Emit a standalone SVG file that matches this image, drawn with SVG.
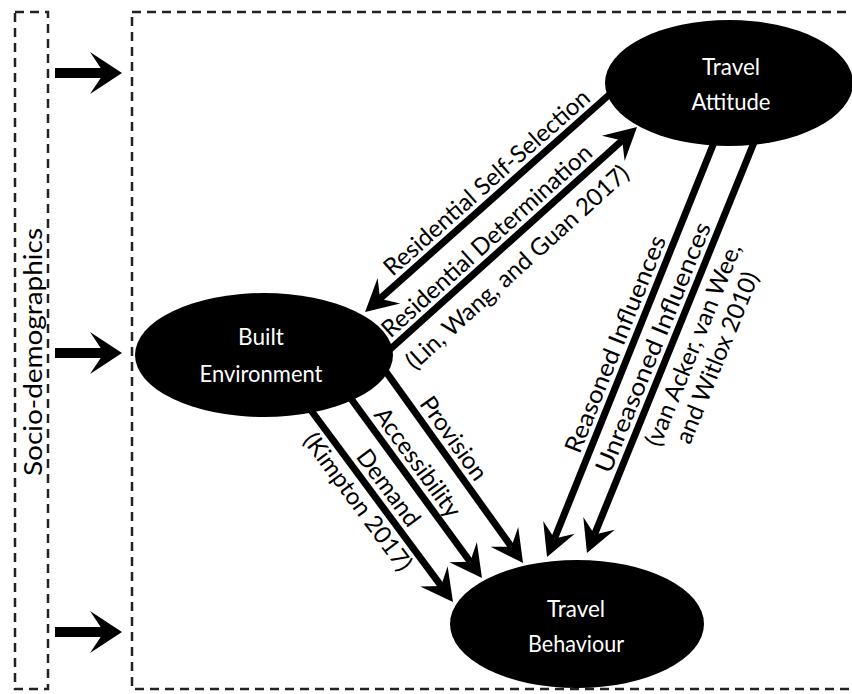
<svg xmlns="http://www.w3.org/2000/svg" width="852" height="694" viewBox="0 0 852 694">
<style>
.frame{fill:none;stroke:#222;stroke-width:2.5;stroke-dasharray:9 6}
.node{fill:#000}
.nl{fill:#fff;font-family:Lato,"Liberation Sans",sans-serif;font-size:24px;text-anchor:middle}
.el{fill:#000;font-family:Lato,"Liberation Sans",sans-serif;font-size:24px;text-anchor:middle}
.conn{fill:none;stroke:#000;stroke-width:7;marker-end:url(#ah)}
.side{fill:none;stroke:#000;stroke-width:10;marker-end:url(#ahb)}
</style>
<defs>
<marker id="ah" markerUnits="userSpaceOnUse" orient="auto" overflow="visible" refX="0" refY="0" markerWidth="1" markerHeight="1"><path d="M20,0 L-12,-17 L0,0 L-12,17 Z" fill="#000"/></marker>
<marker id="ahb" markerUnits="userSpaceOnUse" orient="auto" overflow="visible" refX="0" refY="0" markerWidth="1" markerHeight="1"><path d="M18,0 L-14,-21 L0,0 L-14,21 Z" fill="#000"/></marker>
</defs>
<rect width="852" height="694" fill="#fff"/>
<g id="socio-demographics">
<rect class="frame" x="15" y="12" width="33" height="677"/>
<text transform="translate(42,352) rotate(-90)" font-family="Lato, 'Liberation Sans', sans-serif" font-size="25" text-anchor="middle" textLength="248" lengthAdjust="spacingAndGlyphs" fill="#000">Socio-demographics</text>
</g>
<g id="main-frame">
<rect class="frame" x="132" y="12" width="740" height="677"/>
</g>
<g id="connectors">
<path class="side" d="M55,73 L104,73"/>
<path class="side" d="M55,353 L104,353"/>
<path class="side" d="M55,632 L104,632"/>
<path class="conn" d="M610,94 L380,298.7"/>
<path class="conn" d="M386,353 L622.2,140.4"/>
<path class="conn" d="M310,409 L441.1,585.9"/>
<path class="conn" d="M349,396 L470.2,561.8"/>
<path class="conn" d="M384,369 L511.4,546.7"/>
<path class="conn" d="M715,140 L554.5,538.5"/>
<path class="conn" d="M755,140 L594.5,534.5"/>
<text class="el" transform="translate(492.1,188.5) rotate(-41.6)">Residential Self-Selection</text>
<text class="el" transform="translate(492.2,247) rotate(-42.1)">Residential Determination</text>
<text class="el" transform="translate(522.7,273.2) rotate(-42.1)">(Lin, Wang, and Guan 2017)</text>
<text class="el" transform="translate(447,443.1) rotate(54.4)">Provision</text>
<text class="el" transform="translate(411,467.2) rotate(53.9)">Accessibility</text>
<text class="el" transform="translate(381.9,492.6) rotate(53.5)">Demand</text>
<text class="el" transform="translate(351.2,506.7) rotate(53.5)">(Kimpton 2017)</text>
<text class="el" transform="translate(623,347.2) rotate(-68)" textLength="232" lengthAdjust="spacingAndGlyphs">Reasoned Influences</text>
<text class="el" transform="translate(660.8,350.5) rotate(-67.8)" textLength="268" lengthAdjust="spacingAndGlyphs">Unreasoned Influences</text>
<text class="el" transform="translate(700.7,347.8) rotate(-67.8)">(van Acker, van Wee,</text>
<text class="el" transform="translate(724.6,360.7) rotate(-67.8)">and Witlox 2010)</text>
</g>
<g id="travel-attitude">
<ellipse class="node" cx="729" cy="83" rx="124" ry="63"/>
<text class="nl" x="731" y="75" textLength="58" lengthAdjust="spacingAndGlyphs">Travel</text>
<text class="nl" x="731" y="110" textLength="79" lengthAdjust="spacingAndGlyphs">Attitude</text>
</g>
<g id="built-environment">
<ellipse class="node" cx="264" cy="355" rx="129" ry="62"/>
<text class="nl" x="261" y="345" textLength="46" lengthAdjust="spacingAndGlyphs">Built</text>
<text class="nl" x="261" y="382" textLength="123" lengthAdjust="spacingAndGlyphs">Environment</text>
</g>
<g id="travel-behaviour">
<ellipse class="node" cx="577" cy="624" rx="127" ry="64"/>
<text class="nl" x="576" y="617" textLength="58" lengthAdjust="spacingAndGlyphs">Travel</text>
<text class="nl" x="576" y="652" textLength="96" lengthAdjust="spacingAndGlyphs">Behaviour</text>
</g>
</svg>
